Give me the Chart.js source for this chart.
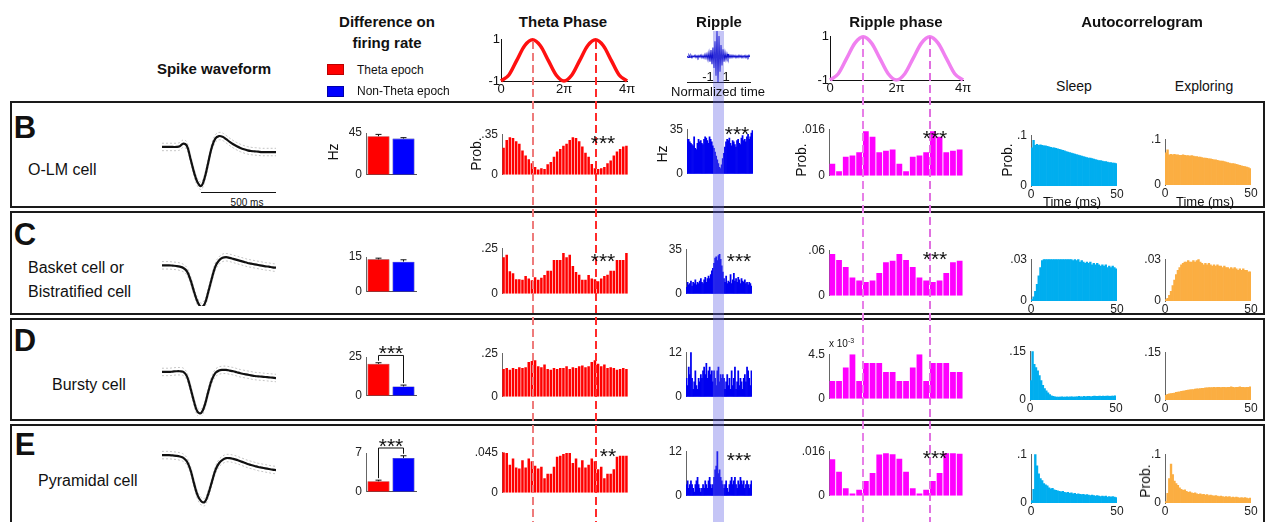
<!DOCTYPE html>
<html>
<head>
<meta charset="utf-8">
<title>Cell types: firing, theta, ripple, autocorrelogram</title>
<script src="https://cdn.jsdelivr.net/npm/chart.js@4.4.1/dist/chart.umd.min.js"></script>
<style>
  body { margin: 0; width: 1271px; height: 522px; overflow: hidden; background: #fff; position: relative;
         font-family: "Liberation Sans", Arial, sans-serif; color: #111; }
  canvas, .t, .box, .ov { position: absolute; }
  .t { white-space: nowrap; line-height: 1; }
  .box { border: 2px solid #1a1a1a; box-sizing: border-box; }
</style>
</head>
<body>
<script>
// ---- data ----
const rowNames = ['B', 'C', 'D', 'E'];

// header curves
const sineHdr = [-1, -0.71, 0, 0.71, 1, 0.71, 0, -0.71, -1, -0.71, 0, 0.71, 1, 0.71, 0, -0.71, -1];
const rippleHdr = [0.02,-0.04,0.05,-0.03,0.04,-0.05,0.03,-0.02,0.05,-0.04,0.03,-0.05,0.04,-0.03,0.06,-0.05,
  0.04,-0.06,0.08,-0.07,0.1,-0.12,0.15,-0.2,0.25,-0.3,0.35,-0.45,0.6,-0.75,1.0,-1.0,0.8,-0.6,0.45,-0.35,
  0.28,-0.2,0.15,-0.12,0.1,-0.08,0.06,-0.05,0.05,-0.04,0.05,-0.03,0.04,-0.05,0.03,-0.04,0.05,-0.03,0.04,
  -0.05,0.03,-0.02,0.04,-0.05,0.03,-0.04,0.05,-0.02];

// spike waveforms (normalised amplitude)
const wfB = [0.15,0.15,0.15,0.15,0.15,0.17,0.25,0.18,-0.2,-0.6,-0.9,-1.0,-0.75,-0.3,0.15,0.4,0.47,0.45,0.38,0.3,0.23,0.17,0.12,0.08,0.05,0.03,0.02,0.01,0,0,0,0,0];
const wfC = [0.08,0.08,0.08,0.07,0.06,0.04,0.0,-0.1,-0.35,-0.7,-1.0,-1.15,-1.05,-0.7,-0.3,0.05,0.22,0.3,0.32,0.3,0.27,0.24,0.21,0.18,0.15,0.13,0.11,0.09,0.07,0.05,0.04,0.02,0.01];
const wfD = [0.18,0.18,0.18,0.19,0.2,0.2,0.18,0.05,-0.3,-0.7,-1.0,-1.03,-0.8,-0.4,-0.05,0.15,0.22,0.24,0.24,0.22,0.2,0.17,0.14,0.12,0.1,0.08,0.06,0.05,0.04,0.03,0.02,0.01,0];
const wfE = [0.44,0.44,0.44,0.43,0.42,0.4,0.36,0.25,0.0,-0.4,-0.75,-0.92,-0.94,-0.7,-0.35,0.0,0.2,0.3,0.35,0.35,0.33,0.3,0.26,0.22,0.18,0.15,0.12,0.09,0.07,0.05,0.03,0.01,0];
const wfSd = 0.11;

// firing rate (Hz): theta epoch, non-theta epoch
const frLabels = ['Theta epoch', 'Non-Theta epoch'];
const frB = [41.5, 39], frErrB = [2, 1];
const frC = [14, 13], frErrC = [0.5, 0.8];
const frD = [20.6, 6], frErrD = [0.7, 0.9];
const frE = [1.9, 6.1], frErrE = [0.2, 0.4];
const frMax = [45, 15, 25, 7];
const frSig = [null, null, 26, 7.9];

// theta phase histograms, 0..4pi, 40 bins
const thetaB = [.234,.30,.323,.317,.29,.267,.21,.167,.134,.10,.067,.045,.056,.05,.09,.11,.156,.20,.223,.25,.267,.30,.323,.317,.29,.245,.19,.156,.094,.056,.05,.056,.067,.10,.123,.167,.20,.223,.245,.25];
const thetaC = [.20,.214,.123,.113,.08,.08,.077,.098,.084,.074,.091,.077,.088,.103,.127,.127,.185,.185,.185,.224,.20,.214,.152,.12,.105,.077,.077,.103,.084,.08,.069,.084,.098,.105,.127,.127,.185,.185,.185,.224];
const thetaD = [.16,.165,.155,.165,.16,.17,.165,.17,.2,.205,.21,.175,.17,.185,.16,.155,.165,.16,.165,.165,.175,.16,.17,.165,.175,.18,.17,.175,.2,.21,.19,.175,.185,.165,.17,.165,.155,.16,.165,.16];
const thetaE = [.045,.044,.031,.038,.028,.027,.036,.028,.038,.035,.030,.027,.029,.016,.021,.021,.029,.040,.041,.043,.044,.044,.033,.038,.028,.036,.028,.031,.038,.035,.026,.029,.016,.021,.021,.026,.040,.041,.041,.041];
const thetaMax = [.35, .25, .25, .045];
const thetaTop = ['.35', '.25', '.25', '.045'];

// ripple-triggered rate (Hz), 60 bins
const ripB = [27,27,25,24,23,22,29,20,19,24,27,25,26,24,23,27,29,28,26,24,29,27,25,22,20,17,14,11,8,5,4,7,12,16,21,25,27,26,28,24,22,26,25,23,21,26,27,24,23,28,30,26,27,25,29,31,27,29,32,34];
const ripC = [5,9,7,8,10,6,9,8,11,7,9,8,10,12,9,8,11,13,9,12,14,12,15,18,20,24,28,29,26,30,31,27,22,17,12,9,14,8,10,9,15,8,11,16,10,12,9,13,11,8,12,10,9,11,8,9,7,9,8,6];
const ripD = [5,3,8,6,12,5,2,4,7,3,2,5,4,6,5,7,8,6,9,5,7,8,6,7,4,7,5,3,7,8,4,6,5,6,5,2,4,6,3,5,2,7,3,5,8,2,4,7,3,5,4,2,5,6,4,8,7,5,3,7];
const ripE = [3,4,2,3,4,3,2,1,3,4,5,3,2,1,2,3,2,4,3,2,4,5,3,2,3,5,7,8,12,6,7,5,4,3,2,3,4,2,1,3,4,5,3,4,5,3,2,4,3,5,4,3,4,2,3,4,3,2,3,4];
const ripMax = [35, 35, 12, 12];

// ripple phase histograms, 0..4pi, 20 bins (row D in units of 1e-3)
const rphB = [.0041,.0016,.0065,.007,.0081,.0153,.0134,.0081,.0086,.009,.0041,.0016,.0065,.007,.0081,.0153,.0134,.0081,.0086,.009];
const rphC = [.055,.047,.038,.024,.020,.018,.020,.030,.044,.046,.055,.047,.038,.024,.020,.018,.020,.030,.044,.046];
const rphD = [1.8,1.8,3.15,4.5,1.8,3.6,3.6,3.6,2.7,2.7,1.8,1.8,3.15,4.5,1.8,3.6,3.6,3.6,2.7,2.7];
const rphE = [.0131,.0086,.0027,.0008,.0022,.0053,.0082,.0148,.0153,.0149,.0133,.0086,.0027,.0008,.0022,.0053,.0082,.0153,.0153,.0151];
const rphMax = [.016, .06, 4.5, .016];
const rphTop = ['.016', '.06', '4.5', '.016'];

// autocorrelograms, 0..50 ms, 1 ms bins
const sleepB = [.075,.09,.08,.082,.08,.081,.08,.079,.079,.078,.077,.076,.075,.075,.074,.073,.072,.071,.07,.069,.068,.067,.066,.065,.064,.063,.062,.061,.06,.059,.058,.057,.056,.055,.055,.054,.053,.052,.051,.05,.05,.049,.048,.048,.047,.046,.046,.045,.045,.044];
const explB = [.07,.077,.066,.067,.066,.067,.066,.066,.065,.065,.066,.065,.064,.064,.063,.064,.063,.062,.062,.061,.061,.06,.059,.059,.058,.057,.057,.056,.055,.055,.054,.053,.052,.052,.051,.05,.049,.048,.047,.047,.046,.045,.044,.043,.042,.041,.04,.039,.038,.036];
const sleepC = [.001,.003,.007,.012,.018,.024,.029,.032,.032,.031,.032,.033,.033,.034,.034,.032,.033,.031,.032,.031,.031,.030,.031,.030,.029,.030,.029,.030,.028,.029,.028,.027,.028,.027,.028,.026,.027,.026,.027,.026,.025,.026,.025,.026,.024,.025,.024,.025,.024,.023];
const explC = [.001,.002,.004,.007,.011,.015,.019,.022,.024,.026,.027,.028,.028,.029,.028,.028,.029,.028,.029,.030,.028,.027,.026,.027,.026,.027,.026,.025,.026,.025,.026,.025,.025,.024,.025,.024,.024,.023,.024,.023,.024,.023,.022,.023,.022,.023,.022,.022,.021,.021];
const sleepD = [.06,.15,.11,.1,.09,.075,.06,.045,.035,.028,.022,.017,.013,.011,.01,.009,.009,.009,.01,.009,.009,.01,.009,.01,.01,.009,.01,.01,.011,.01,.01,.011,.01,.011,.011,.01,.011,.012,.011,.011,.012,.011,.012,.011,.012,.012,.011,.012,.012,.013];
const explD = [.015,.018,.019,.02,.021,.022,.024,.025,.026,.027,.028,.029,.03,.031,.032,.033,.033,.034,.035,.035,.036,.037,.037,.038,.038,.039,.039,.039,.04,.039,.04,.04,.039,.04,.04,.039,.04,.04,.041,.04,.039,.04,.04,.041,.04,.04,.039,.04,.04,.041];
const sleepE = [.005,.028,.1,.076,.06,.05,.046,.04,.037,.035,.031,.029,.03,.027,.026,.025,.024,.023,.024,.022,.021,.022,.02,.021,.019,.02,.018,.019,.018,.017,.018,.016,.017,.016,.015,.016,.015,.014,.015,.014,.013,.014,.013,.014,.012,.013,.012,.013,.012,.011];
const explE = [.003,.02,.05,.08,.058,.045,.04,.036,.031,.028,.026,.027,.024,.022,.023,.021,.02,.021,.019,.018,.019,.017,.018,.016,.017,.015,.016,.015,.014,.015,.014,.013,.014,.013,.012,.013,.012,.013,.011,.012,.011,.012,.011,.01,.011,.01,.011,.01,.009,.01];
const acgMax = [.1, .03, .15, .1];
const acgTop = ['.1', '.03', '.15', '.1'];

// ---- layout (plot areas: left, top, width, height) ----
const frArea = [[366,133,50,50],[366,257,50,43],[366,357,50,47],[366,453,50,47]];
const thArea = [[502,133,126,52],[502,247,126,57],[502,352,126,55],[502,451,126,52]];
const rpArea = [[687,128,66,56],[686,248,66,56],[686,351,66,56],[686,450,66,56]];
const rhArea = [[829,128,134,58],[829,249,134,57],[829,353,134,56],[829,450,134,56]];
const slArea = [[1031,134,86,52],[1031,258,86,43],[1030,350,86,50],[1031,453,86,50]];
const exArea = [[1165,138,86,47],[1165,258,86,43],[1165,351,86,49],[1165,453,86,50]];
const wfTop = [130, 246, 356, 448];

Chart.defaults.font.family = '"Liberation Sans", Arial, sans-serif';
Chart.defaults.color = '#222';
Chart.defaults.animation = false;
Chart.defaults.responsive = false;
Chart.defaults.plugins.legend.display = false;
Chart.defaults.plugins.tooltip.enabled = false;

const F12 = { size: 12 };
const NOGRID = { display: false, drawTicks: false };

function el(cls, css) {
  const d = document.createElement('div');
  d.className = cls;
  d.style.cssText = css;
  document.body.appendChild(d);
  return d;
}
function txt(s, x, y, css, anchor) {
  const d = el('t', (css || '') + ';left:' + x + 'px;top:' + y + 'px');
  d.innerHTML = s;
  d.style.transform = anchor === 'l' ? 'translate(0,-50%)'
    : anchor === 'r' ? 'translate(-50%,-50%) rotate(-90deg)' : 'translate(-50%,-50%)';
}
function stars(s, x, y) { txt(s, x, y + 5, 'font-size:21px'); }

// canvas sized so that the plot area lands on `area`
function mount(area, pad, cfg) {
  const c = document.createElement('canvas');
  c.width = area[2] + pad[0] + pad[2];
  c.height = area[3] + pad[1] + pad[3];
  c.style.left = (area[0] - pad[0]) + 'px';
  c.style.top = (area[1] - pad[1]) + 'px';
  document.body.appendChild(c);
  return new Chart(c, cfg);
}

function yAx(max, top, w) {
  return {
    min: 0, max: max,
    grid: NOGRID,
    border: { color: '#666' },
    ticks: { font: F12, color: '#222', padding: 4, callback: v => v === 0 ? '0' : top },
    afterBuildTicks: s => { s.ticks = [{ value: 0 }, { value: max }]; },
    afterFit: s => { s.width = w; }
  };
}
function xHidden(h, border) {
  return { grid: NOGRID, ticks: { display: false },
    border: { display: !!border, color: '#555' }, afterFit: s => { s.height = h; } };
}

// histogram on category axis
function hist(area, vals, color, max, top, barPct) {
  const pad = [34, 10, 4, 1];
  return mount(area, pad, {
    type: 'bar',
    data: { labels: vals.map((_, i) => i),
      datasets: [{ data: vals, backgroundColor: color, barPercentage: barPct, categoryPercentage: 1 }] },
    options: { layout: { padding: { top: pad[1], right: pad[2] } },
      scales: { x: xHidden(pad[3]), y: yAx(max, top, pad[0]) } }
  });
}

// autocorrelogram on a 0..50 ms linear axis
function acg(area, vals, color, max, top) {
  const pad = [30, 10, 10, 18];
  return mount(area, pad, {
    type: 'bar',
    data: { datasets: [{ data: vals.map((v, i) => ({ x: i + 0.5, y: v })), backgroundColor: color,
      barPercentage: 1, categoryPercentage: 1 }] },
    options: { layout: { padding: { top: pad[1], right: pad[2] } },
      scales: {
        x: { type: 'linear', min: 0, max: 50, offset: false, grid: NOGRID, border: { display: false },
          ticks: { font: F12, color: '#222', padding: 1 },
          afterBuildTicks: s => { s.ticks = [{ value: 0 }, { value: 50 }]; },
          afterFit: s => { s.height = pad[3]; } },
        y: yAx(max, top, pad[0])
      } }
  });
}

const errPlugin = {
  id: 'errBars',
  afterDatasetsDraw(chart) {
    const ctx = chart.ctx, y = chart.scales.y, ds = chart.data.datasets[0];
    const bars = chart.getDatasetMeta(0).data;
    ctx.save();
    ctx.strokeStyle = '#111';
    ctx.lineWidth = 1;
    const tops = [];
    bars.forEach((bar, i) => {
      const y1 = y.getPixelForValue(ds.data[i] + ds.err[i]);
      tops.push(y1);
      ctx.beginPath();
      ctx.moveTo(bar.x, bar.y); ctx.lineTo(bar.x, y1);
      ctx.moveTo(bar.x - 3, y1); ctx.lineTo(bar.x + 3, y1);
      ctx.stroke();
    });
    if (ds.sig != null) {
      const yb = y.getPixelForValue(ds.sig);
      ctx.beginPath();
      ctx.moveTo(bars[0].x, tops[0] - 2); ctx.lineTo(bars[0].x, yb);
      ctx.lineTo(bars[1].x, yb); ctx.lineTo(bars[1].x, tops[1] - 2);
      ctx.stroke();
    }
    ctx.restore();
  }
};

function frBar(area, vals, errs, max, sig) {
  const pad = [34, 26, 6, 3];
  return mount(area, pad, {
    type: 'bar',
    data: { labels: frLabels, datasets: [{ data: vals, err: errs, sig: sig,
      backgroundColor: ['#ff0000', '#0000ff'], borderColor: ['#900', '#009'], borderWidth: 0.6,
      barPercentage: 0.88, categoryPercentage: 1 }] },
    options: { layout: { padding: { top: pad[1], right: pad[2] } },
      scales: { x: xHidden(pad[3], true), y: yAx(max, String(max), pad[0]) } },
    plugins: [errPlugin]
  });
}

function wave(area, vals) {
  const up = vals.map(v => v + wfSd), lo = vals.map(v => v - wfSd);
  const line = (d, c, w, dash) => ({ data: d, borderColor: c, borderWidth: w, borderDash: dash,
    pointRadius: 0, tension: 0.4, clip: false });
  return mount(area, [0, 0, 0, 0], {
    type: 'line',
    data: { labels: vals.map((_, i) => i),
      datasets: [line(vals, '#111', 2.2, []), line(up, '#c4c4c4', 1, [2, 2]), line(lo, '#c4c4c4', 1, [2, 2])] },
    options: { layout: { padding: 0 }, scales: { x: { display: false }, y: { display: false, min: -1.12, max: 0.65 } } }
  });
}

function sine(area, vals, color) {
  const pad = [22, 8, 14, 18];
  return mount(area, pad, {
    type: 'line',
    data: { datasets: [{ data: vals.map((v, i) => ({ x: i * 4 / (vals.length - 1), y: v })),
      borderColor: color, borderWidth: 3.5, pointRadius: 0, cubicInterpolationMode: 'monotone', clip: false }] },
    options: { layout: { padding: { top: pad[1], right: pad[2] } },
      scales: {
        x: { type: 'linear', min: 0, max: 4, grid: NOGRID, border: { color: '#111' },
          ticks: { font: { size: 13 }, color: '#111', padding: 1, callback: v => v === 0 ? '0' : v + 'π' },
          afterBuildTicks: s => { s.ticks = [{ value: 0 }, { value: 2 }, { value: 4 }]; },
          afterFit: s => { s.height = pad[3]; } },
        y: { min: -1, max: 1, grid: NOGRID, border: { color: '#111' },
          ticks: { font: { size: 13 }, color: '#111', padding: 1, callback: v => String(v) },
          afterBuildTicks: s => { s.ticks = [{ value: -1 }, { value: 1 }]; },
          afterFit: s => { s.width = pad[0]; } }
      } }
  });
}

// ---- boxes ----
[[101, 208], [211, 315], [318, 421], [424, 532]].forEach(b =>
  el('box', 'left:10px;top:' + b[0] + 'px;width:1255px;height:' + (b[1] - b[0]) + 'px'));

// ---- header ----
sine([501, 39, 126, 42], sineHdr, '#ff1010');
sine([830, 36, 133, 44], sineHdr, '#f080f0');
mount([686.5, 31, 63, 51], [2, 2, 2, 1], {
  type: 'line',
  data: { datasets: [{ data: rippleHdr.map((v, i) => ({ x: -4.5 + 9 * i / (rippleHdr.length - 1), y: v })),
    borderColor: '#1515d0', borderWidth: 1.1, pointRadius: 0 }] },
  options: { layout: { padding: { left: 2, top: 2, right: 2 } },
    scales: { x: { type: 'linear', min: -4.5, max: 4.5, grid: NOGRID, ticks: { display: false },
      border: { color: '#111' }, afterFit: s => { s.height = 1; } },
      y: { display: false, min: -1, max: 1 } } }
});

// ---- rows ----
const wfData = [wfB, wfC, wfD, wfE];
const frData = [[frB, frErrB], [frC, frErrC], [frD, frErrD], [frE, frErrE]];
const thData = [thetaB, thetaC, thetaD, thetaE];
const rpData = [ripB, ripC, ripD, ripE];
const rhData = [rphB, rphC, rphD, rphE];
const slData = [sleepB, sleepC, sleepD, sleepE];
const exData = [explB, explC, explD, explE];

for (let r = 0; r < 4; r++) {
  wave([162, wfTop[r], 114, 60], wfData[r]);
  frBar(frArea[r], frData[r][0], frData[r][1], frMax[r], frSig[r]);
  hist(thArea[r], thData[r], '#ff0000', thetaMax[r], thetaTop[r], 0.8);
  hist(rpArea[r], rpData[r], '#0000f0', ripMax[r], String(ripMax[r]), 1);
  hist(rhArea[r], rhData[r], '#ff00ff', rphMax[r], rphTop[r], 0.86);
  acg(slArea[r], slData[r], '#00aeef', acgMax[r], acgTop[r]);
  acg(exArea[r], exData[r], '#fbae42', acgMax[r], acgTop[r]);
}

// ---- overlays: ripple window and phase peaks ----
el('ov', 'left:713px;top:31px;width:11px;height:491px;background:rgba(95,95,230,0.36)');
function dashed(x, top, color) {
  el('ov', 'left:' + x + 'px;top:' + top + 'px;width:2px;height:' + (522 - top) + 'px;' +
    'background:repeating-linear-gradient(to bottom,' + color + ' 0 8px,transparent 8px 12px)');
}
dashed(531.5, 41, '#ee7b7b');
dashed(595, 41, '#ff2a2a');
dashed(861.5, 37, '#e77fe7');
dashed(929, 37, '#e070e0');

// ---- text ----
const T15 = 'font-size:15px;font-weight:bold';
txt('Spike waveform', 214, 68, T15);
txt('Difference on', 387, 21, T15);
txt('firing rate', 387, 42, T15);
txt('Theta Phase', 563, 21, T15);
txt('Ripple', 719, 21, T15);
txt('Ripple phase', 896, 21, T15);
txt('Autocorrelogram', 1142, 21, T15);
txt('Sleep', 1074, 86, 'font-size:14px');
txt('Exploring', 1204, 86, 'font-size:14px');
txt('Normalized time', 718, 91, 'font-size:13px');
txt('-1', 708, 76, 'font-size:13px');
txt('1', 726, 76, 'font-size:13px');

el('ov', 'left:327px;top:64px;width:17px;height:11px;background:#ff0000;box-shadow:inset 0 0 0 1px #b00');
el('ov', 'left:327px;top:86px;width:17px;height:11px;background:#0000ff;box-shadow:inset 0 0 0 1px #00a');
txt('Theta epoch', 357, 70, 'font-size:12px', 'l');
txt('Non-Theta epoch', 357, 91, 'font-size:12px', 'l');

const letterY = [127, 234, 340, 444];
rowNames.forEach((n, r) => txt(n, 25, letterY[r], 'font-size:31px;font-weight:bold'));
txt('O-LM cell', 28, 170, 'font-size:16px', 'l');
txt('Basket cell or', 28, 268, 'font-size:16px', 'l');
txt('Bistratified cell', 28, 292, 'font-size:16px', 'l');
txt('Bursty cell', 52, 385, 'font-size:16px', 'l');
txt('Pyramidal cell', 38, 481, 'font-size:16px', 'l');

el('ov', 'left:201px;top:192px;width:75px;height:1px;background:#111');
txt('500 ms', 247, 203, 'font-size:10px');

txt('Hz', 333, 152, 'font-size:14px', 'r');
txt('Prob.', 476, 154, 'font-size:14px', 'r');
txt('Hz', 662, 154, 'font-size:14px', 'r');
txt('Prob.', 801, 160, 'font-size:14px', 'r');
txt('Prob.', 1007, 160, 'font-size:14px', 'r');
txt('Prob.', 1145, 481, 'font-size:14px', 'r');
txt('Time (ms)', 1072, 201, 'font-size:13px');
txt('Time (ms)', 1205, 201, 'font-size:13px');
txt('x 10<sup style="font-size:7px">-3</sup>', 829, 343, 'font-size:10px', 'l');

stars('***', 603, 137); stars('***', 737, 128); stars('***', 935, 132);
stars('***', 603, 255); stars('***', 739, 255); stars('***', 935, 253);
stars('**', 608, 450); stars('***', 739, 454); stars('***', 935, 452);
stars('***', 391, 347); stars('***', 391, 440);
</script>
</body>
</html>
